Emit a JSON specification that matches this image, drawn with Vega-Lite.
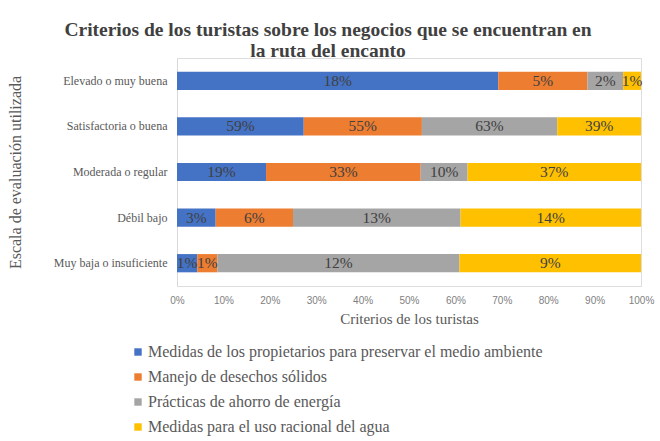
{
  "$schema": "https://vega.github.io/schema/vega-lite/v6.json",
  "width": 464,
  "height": 228,
  "autosize": {"type": "none"},
  "padding": {"left": 177, "top": 58, "right": 19, "bottom": 155},
  "background": "white",
  "config": {
    "legend": {"labelFont": "Liberation Serif", "labelFontSize": 16, "labelColor": "#595959"}
  },
  "title": {
    "text": ["Criterios de los turistas sobre los negocios que se encuentran en", "la ruta del encanto"],
    "font": "Liberation Serif",
    "fontSize": 19.5,
    "fontWeight": "bold",
    "color": "#404040",
    "anchor": "middle",
    "dx": -81,
    "lineHeight": 20.5,
    "offset": -3
  },
  "data": {
    "values": [
      {"escala": "Elevado o muy buena", "criterio": "Medidas de los propietarios para preservar el medio ambiente", "orden": 1, "valor": 0.18},
      {"escala": "Elevado o muy buena", "criterio": "Manejo de desechos sólidos", "orden": 2, "valor": 0.05},
      {"escala": "Elevado o muy buena", "criterio": "Prácticas de ahorro de energía", "orden": 3, "valor": 0.02},
      {"escala": "Elevado o muy buena", "criterio": "Medidas para el uso racional del agua", "orden": 4, "valor": 0.01},
      {"escala": "Satisfactoria o buena", "criterio": "Medidas de los propietarios para preservar el medio ambiente", "orden": 1, "valor": 0.59},
      {"escala": "Satisfactoria o buena", "criterio": "Manejo de desechos sólidos", "orden": 2, "valor": 0.55},
      {"escala": "Satisfactoria o buena", "criterio": "Prácticas de ahorro de energía", "orden": 3, "valor": 0.63},
      {"escala": "Satisfactoria o buena", "criterio": "Medidas para el uso racional del agua", "orden": 4, "valor": 0.39},
      {"escala": "Moderada o regular", "criterio": "Medidas de los propietarios para preservar el medio ambiente", "orden": 1, "valor": 0.19},
      {"escala": "Moderada o regular", "criterio": "Manejo de desechos sólidos", "orden": 2, "valor": 0.33},
      {"escala": "Moderada o regular", "criterio": "Prácticas de ahorro de energía", "orden": 3, "valor": 0.10},
      {"escala": "Moderada o regular", "criterio": "Medidas para el uso racional del agua", "orden": 4, "valor": 0.37},
      {"escala": "Débil bajo", "criterio": "Medidas de los propietarios para preservar el medio ambiente", "orden": 1, "valor": 0.03},
      {"escala": "Débil bajo", "criterio": "Manejo de desechos sólidos", "orden": 2, "valor": 0.06},
      {"escala": "Débil bajo", "criterio": "Prácticas de ahorro de energía", "orden": 3, "valor": 0.13},
      {"escala": "Débil bajo", "criterio": "Medidas para el uso racional del agua", "orden": 4, "valor": 0.14},
      {"escala": "Muy baja o insuficiente", "criterio": "Medidas de los propietarios para preservar el medio ambiente", "orden": 1, "valor": 0.01},
      {"escala": "Muy baja o insuficiente", "criterio": "Manejo de desechos sólidos", "orden": 2, "valor": 0.01},
      {"escala": "Muy baja o insuficiente", "criterio": "Prácticas de ahorro de energía", "orden": 3, "valor": 0.12},
      {"escala": "Muy baja o insuficiente", "criterio": "Medidas para el uso racional del agua", "orden": 4, "valor": 0.09}
    ]
  },
  "transform": [
    {"stack": "valor", "groupby": ["escala"], "sort": [{"field": "orden", "order": "ascending"}], "offset": "normalize", "as": ["x0", "x1"]},
    {"calculate": "(datum.x0 + datum.x1) / 2", "as": "xm"}
  ],
  "encoding": {
    "y": {
      "field": "escala",
      "type": "nominal",
      "sort": ["Elevado o muy buena", "Satisfactoria o buena", "Moderada o regular", "Débil bajo", "Muy baja o insuficiente"],
      "scale": {"paddingInner": 0.6, "paddingOuter": 0.3},
      "axis": {
        "title": "Escala de evaluación utilizada",
        "titleFont": "Liberation Serif",
        "titleFontSize": 16,
        "titleFontWeight": "normal",
        "titleColor": "#595959",
        "titlePadding": 30,
        "labelFont": "Liberation Serif",
        "labelFontSize": 12,
        "labelColor": "#595959",
        "labelPadding": 10,
        "ticks": false,
        "domain": true,
        "domainColor": "#d9d9d9",
        "grid": false
      }
    }
  },
  "layer": [
    {
      "mark": {"type": "bar"},
      "encoding": {
        "x": {
          "field": "x0",
          "type": "quantitative",
          "scale": {"domain": [0, 1], "nice": false},
          "axis": {
            "title": "Criterios de los turistas",
            "titleFont": "Liberation Serif",
            "titleFontSize": 15,
            "titleFontWeight": "normal",
            "titleColor": "#595959",
            "titlePadding": 6,
            "values": [0, 0.1, 0.2, 0.3, 0.4, 0.5, 0.6, 0.7, 0.8, 0.9, 1],
            "format": ".0%",
            "labelFont": "Liberation Sans",
            "labelFontSize": 10,
            "labelColor": "#808080",
            "labelPadding": 9,
            "labelFlush": false,
            "ticks": false,
            "domain": false,
            "grid": false
          }
        },
        "x2": {"field": "x1"},
        "color": {
          "field": "criterio",
          "type": "nominal",
          "sort": ["Medidas de los propietarios para preservar el medio ambiente", "Manejo de desechos sólidos", "Prácticas de ahorro de energía", "Medidas para el uso racional del agua"],
          "scale": {
            "domain": ["Medidas de los propietarios para preservar el medio ambiente", "Manejo de desechos sólidos", "Prácticas de ahorro de energía", "Medidas para el uso racional del agua"],
            "range": ["#4472C4", "#ED7D31", "#A5A5A5", "#FFC000"]
          },
          "legend": {
            "title": null,
            "orient": "none",
            "legendX": -47,
            "legendY": 286,
            "direction": "vertical",
            "symbolType": "square",
            "symbolSize": 55,
            "symbolStrokeWidth": 0,
            "labelFont": "Liberation Serif",
            "labelFontSize": 16,
            "labelColor": "#595959",
            "labelOffset": 2,
            "rowPadding": 9,
            "labelLimit": 500
          }
        }
      }
    },
    {
      "mark": {"type": "text", "font": "Liberation Serif", "fontSize": 15.5, "color": "#404040", "align": "center", "baseline": "middle"},
      "encoding": {
        "x": {"field": "xm", "type": "quantitative"},
        "text": {"field": "valor", "type": "quantitative", "format": ".0%"}
      }
    }
  ]
}
